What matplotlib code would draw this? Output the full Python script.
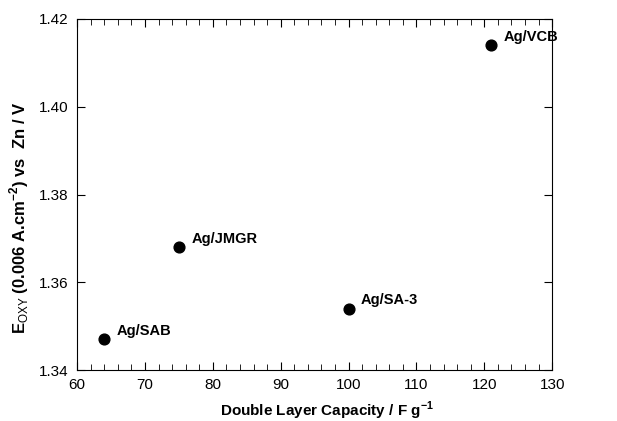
import matplotlib.pyplot as plt
from matplotlib.ticker import MultipleLocator

plt.rcParams['font.family'] = ['Liberation Sans', 'DejaVu Sans']
plt.rcParams['mathtext.fontset'] = 'custom'
plt.rcParams['mathtext.rm'] = 'Liberation Sans'
plt.rcParams['mathtext.bf'] = 'Liberation Sans:bold'

capacity = [64, 75, 100, 121]
e_oxy = [1.347, 1.368, 1.354, 1.414]
names = ['Ag/SAB', 'Ag/JMGR', 'Ag/SA-3', 'Ag/VCB']

fig = plt.figure(figsize=(6.17, 4.21), dpi=100)
ax = fig.add_axes([0.125, 0.121, 0.77, 0.834])

ax.scatter(capacity, e_oxy, s=60, color='black', zorder=3)
for x, y, n in zip(capacity, e_oxy, names):
    ax.annotate(n, xy=(x, y), xytext=(9, 6), textcoords='offset points',
                fontsize=10.5, fontweight='bold', va='center')

ax.set_xlim(60, 130)
ax.set_ylim(1.34, 1.42)
ax.xaxis.set_major_locator(MultipleLocator(10))
ax.xaxis.set_minor_locator(MultipleLocator(2))
ax.yaxis.set_major_locator(MultipleLocator(0.02))
ax.yaxis.set_major_formatter(plt.FormatStrFormatter('%.2f'))
ax.tick_params(which='both', direction='in', top=True, right=True, labelsize=11, pad=6)
ax.tick_params(which='major', length=6)
ax.tick_params(which='minor', length=4)

ax.set_xlabel('Double Layer Capacity / F g$^{\\mathbf{-1}}$', fontsize=11, fontweight='bold')
ax.set_ylabel('E$_{\\mathrm{OXY}}$ (0.006 A.cm$^{\\mathbf{-2}}$) vs  Zn / V', fontsize=12, fontweight='bold')
ax.xaxis.set_label_coords(0.526, -0.085)
ax.yaxis.set_label_coords(-0.097, 0.433)

fig.savefig('out.png', dpi=100)
